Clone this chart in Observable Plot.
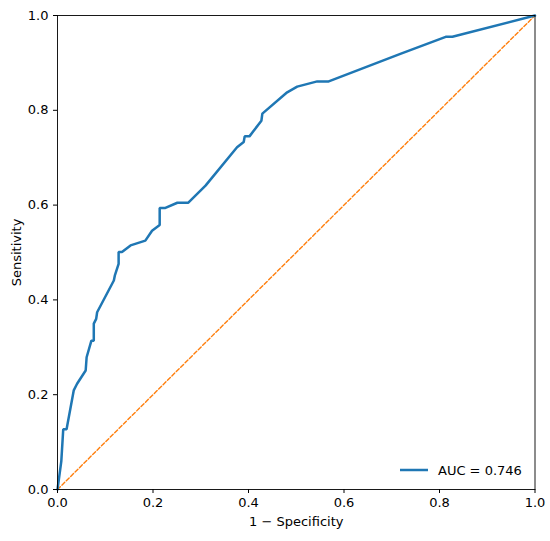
<!DOCTYPE html>
<html><head><meta charset="utf-8">
<script src="https://cdn.jsdelivr.net/npm/d3@7"></script>
<script src="https://cdn.jsdelivr.net/npm/@observablehq/plot@0.6"></script>
<style>body{margin:0;background:#fff}#chart{position:relative;width:550px;height:541px}</style>
</head><body><div id="chart"></div>
<script>
const fpr = [0,0.008,0.012,0.012,0.019,0.034,0.041,0.059,0.061,0.071,0.076,0.076,0.081,0.083,0.118,0.120,0.128,0.128,0.135,0.153,0.184,0.198,0.214,0.214,0.226,0.251,0.274,0.310,0.376,0.390,0.392,0.402,0.427,0.429,0.481,0.502,0.544,0.568,0.718,0.813,0.827,1];
const tpr = [0,0.06,0.127,0.127,0.127,0.209,0.223,0.251,0.279,0.314,0.314,0.350,0.360,0.374,0.441,0.451,0.476,0.501,0.501,0.515,0.525,0.546,0.558,0.594,0.594,0.605,0.605,0.641,0.722,0.733,0.745,0.745,0.778,0.793,0.838,0.850,0.861,0.861,0.919,0.955,0.955,1];
const diag = [0, 1];
const ticks = [0, 0.2, 0.4, 0.6, 0.8, 1.0];
const aucLabel = "AUC = 0.746";

const roc = fpr.map((x, i) => ({x, y: tpr[i]}));
const W = 550, H = 541;
const font = "DejaVu Sans, sans-serif";
const chart = Plot.plot({
  width: W, height: H,
  marginLeft: 57, marginRight: 15.5, marginTop: 15, marginBottom: 52,
  style: {fontFamily: font, fontSize: "13px", background: "#fff", color: "#000"},
  x: {domain: [0, 1]},
  y: {domain: [0, 1]},
  marks: [
    Plot.line(diag, {x: d => d, y: d => d, stroke: "#ff7f0e", strokeWidth: 1.4, strokeDasharray: "4,2.2"}),
    Plot.line(roc, {x: "x", y: "y", stroke: "#1f77b4", strokeWidth: 2.5, strokeLinejoin: "miter", curve: "linear"}),
    Plot.frame({stroke: "#000", strokeWidth: 0.9}),
    Plot.axisX({ticks, tickFormat: d3.format(".1f"), tickSize: 4, tickPadding: 4, fontSize: 13,
      label: "1 − Specificity", labelAnchor: "center", labelArrow: "none", labelOffset: 36}),
    Plot.axisY({ticks, tickFormat: d3.format(".1f"), tickSize: 4, tickPadding: 5, fontSize: 13,
      label: "Sensitivity", labelAnchor: "center", labelArrow: "none", labelOffset: 46})
  ]
});
document.getElementById("chart").appendChild(chart);
// legend inside bottom-right
const svg = d3.select(chart);
const g = svg.append("g").attr("font-family", font).attr("font-size", 13).attr("text-anchor", "start");
g.append("line").attr("x1", 400).attr("x2", 428).attr("y1", 470).attr("y2", 470)
  .attr("stroke", "#1f77b4").attr("stroke-width", 2.5);
g.append("text").attr("x", 438).attr("y", 470).attr("dy", "0.35em").attr("text-anchor", "start").text(aucLabel);
</script></body></html>
